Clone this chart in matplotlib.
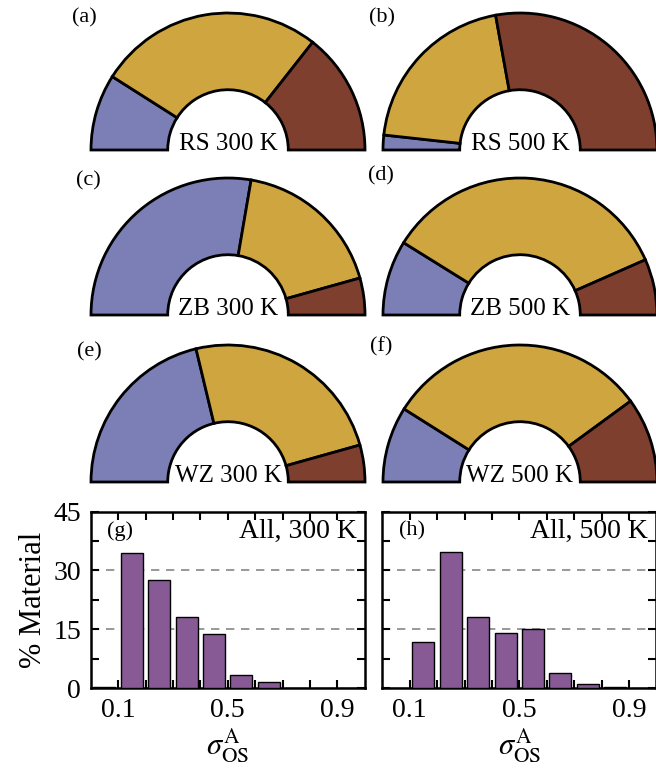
import matplotlib
matplotlib.use('Agg')
import matplotlib.pyplot as plt
import numpy as np

plt.rcParams['font.family'] = ['Liberation Serif', 'DejaVu Serif']
plt.rcParams['mathtext.fontset'] = 'stix'

W, H = 656, 771

# half-donut shares (%): blue, gold, brown
donut_labels = ['RS 300 K', 'RS 500 K', 'ZB 300 K', 'ZB 500 K', 'WZ 300 K', 'WZ 500 K']
panel_tags = ['(a)', '(b)', '(c)', '(d)', '(e)', '(f)']
blue_share = [18.0, 3.5, 55.4, 17.7, 42.5, 17.9]
gold_share = [53.2, 40.8, 35.9, 69.1, 48.8, 62.0]
brown_share = [28.8, 55.7, 8.7, 13.2, 8.7, 20.1]
colors = ['#7b7fb6', '#cfa540', '#7e3f2f']

# histogram of sigma_OS^A
bin_centers = [0.05, 0.15, 0.25, 0.35, 0.45, 0.55, 0.65, 0.75, 0.85, 0.95]
pct_300 = [0.4, 34.4, 27.5, 18.2, 13.7, 3.5, 1.6, 0, 0, 0]
pct_500 = [0, 11.8, 34.8, 18.2, 14.1, 15.0, 4.0, 1.2, 0.4, 0]
hist_tags = ['(g)', '(h)']
hist_titles = ['All, 300 K', 'All, 500 K']

fig = plt.figure(figsize=(W / 100, H / 100), dpi=100)

# donut centres in pixels
centers = [(228, 150), (520, 150), (228, 315), (520, 315), (228, 482), (520, 482)]
tag_pos = [(84, 18), (382, 18), (88, 181), (381, 176), (89, 352), (381, 347)]
R = 137

for i in range(6):
    cx, by = centers[i]
    ax = fig.add_axes([(cx - 1.1 * R) / W, 1 - (by + 0.1 * R) / H,
                       2.2 * R / W, 1.2 * R / H])
    vals = [blue_share[i], gold_share[i], brown_share[i]]
    vals = vals + [sum(vals)]
    wedges, _ = ax.pie(vals, colors=colors + ['white'], startangle=180,
                       counterclock=False, radius=1.0,
                       wedgeprops=dict(width=0.56, edgecolor='black', linewidth=2.0))
    wedges[-1].set_visible(False)
    ax.set_aspect('auto')
    ax.set_xlim(-1.1, 1.1)
    ax.set_ylim(-0.1, 1.1)
    ax.axis('off')
    ax.text(0, 0.0, donut_labels[i], ha='center', va='baseline', fontsize=18)
    fig.text(tag_pos[i][0] / W, 1 - tag_pos[i][1] / H, panel_tags[i],
             ha='center', va='center', fontsize=16)

# histograms
hist_left = [90.7, 382.3]
for j, pct in enumerate([pct_300, pct_500]):
    ax = fig.add_axes([hist_left[j] / W, 1 - 688.3 / H, 274 / W, (688.3 - 511.5) / H])
    ax.bar(bin_centers, pct, width=0.08, color='#875a96', edgecolor='black',
           linewidth=1.0, zorder=3)
    ax.set_xlim(0, 1.0)
    ax.set_ylim(0, 45)
    for yv in [15, 30]:
        ax.axhline(yv, color='#888888', linestyle=(0, (5, 4)), linewidth=1.2, zorder=1)
    ax.set_xticks(np.arange(0.1, 0.95, 0.1))
    ax.set_xticklabels(['0.1', '', '', '', '0.5', '', '', '', '0.9'])
    ax.set_yticks(np.arange(0, 46, 7.5))
    if j == 0:
        ax.set_yticklabels(['0', '', '15', '', '30', '', '45'])
        ax.set_ylabel('% Material', fontsize=22, labelpad=4)
    else:
        ax.set_yticklabels([])
    ax.tick_params(direction='in', top=True, right=True, length=6, width=1.5,
                   labelsize=20, pad=7)
    for s in ax.spines.values():
        s.set_linewidth(1.8)
    ax.set_xlabel(r'$\sigma_{\rm OS}^{\rm A}$', fontsize=22, labelpad=2)
    ax.text(0.06, 0.89, hist_tags[j], transform=ax.transAxes, fontsize=16,
            ha='left', va='center')
    ax.text(0.97, 0.89, hist_titles[j], transform=ax.transAxes, fontsize=20,
            ha='right', va='center')

fig.savefig('out.png', dpi=100)
